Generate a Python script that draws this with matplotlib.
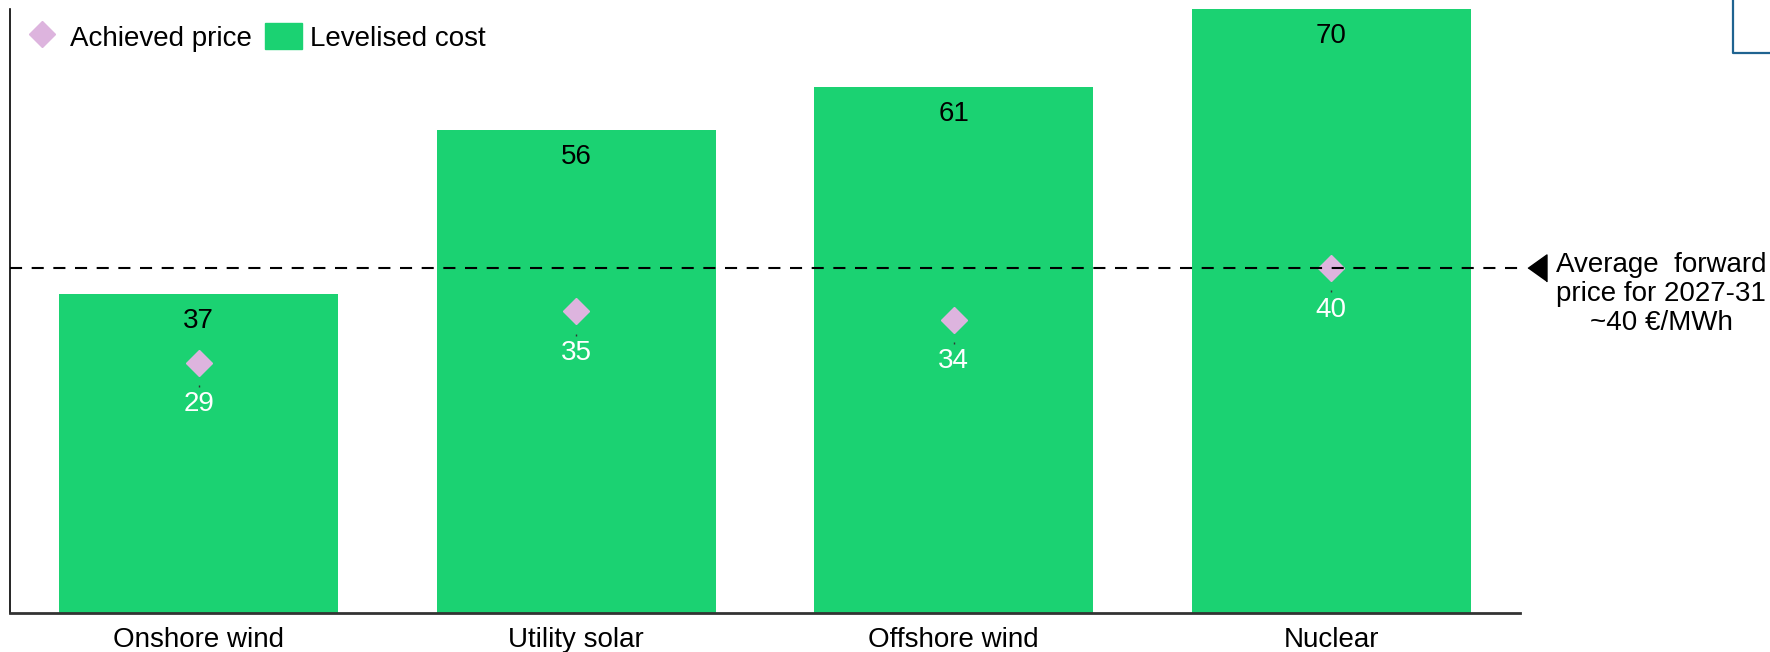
import numpy as np
import matplotlib
matplotlib.use("Agg")
import matplotlib.pyplot as plt
import matplotlib.patches as mpatches
from matplotlib.lines import Line2D
from matplotlib.transforms import offset_copy, blended_transform_factory

plt.rcParams['font.family'] = ['Liberation Sans', 'DejaVu Sans']

# Dados
categorias = ['Onshore wind', 'Utility solar', 'Offshore wind', 'Nuclear']
custo_nivelado = [37, 56, 61, 70]
preco_obtido = [29, 35, 34, 40]
preco_forward = 40

VERDE = '#1BD272'
LILAS = '#DDB4DE'

fig = plt.figure(figsize=(17.7, 6.52), dpi=100)
ax = fig.add_axes([10/1770, 39/652, 1510/1770, 604/652])

x = np.arange(len(categorias))

# Barras do custo nivelado
ax.bar(x, custo_nivelado, width=0.74, color=VERDE, zorder=1)

# Preço obtido (losangos)
ax.plot(x, preco_obtido, ls='none', marker='D', ms=13, color=LILAS,
        mec=LILAS, zorder=2)

# pequeno traço guia abaixo de cada losango
guia = offset_copy(ax.transData, fig=fig, y=-17, units='points')
ax.plot(x, preco_obtido, ls='none', marker='|', ms=2, mew=1,
        color='#333333', transform=guia, zorder=2)

# Rótulos
for xi, c, p in zip(x, custo_nivelado, preco_obtido):
    ax.annotate(f'{c}', xy=(xi, c), xytext=(0, -19.5), textcoords='offset points',
                ha='center', va='center', fontsize=20, color='black', zorder=4)
    ax.annotate(f'{p}', xy=(xi, p), xytext=(0, -30), textcoords='offset points',
                ha='center', va='center', fontsize=20, color='white', zorder=4)

# Linha do preço forward médio
ax.axhline(preco_forward, color='black', lw=1.5, ls=(0, (5.8, 4.6)), zorder=3)
tr = blended_transform_factory(ax.transAxes, ax.transData)
seta = [(-0.7, 0), (0.7, 1), (0.7, -1)]
ax.plot([1.0115], [preco_forward], marker=seta, ms=19.5, color='black',
        ls='none', transform=tr, clip_on=False)
ax.text(1.0935, preco_forward - 3.0,
        'Average  forward\nprice for 2027-31\n~40 €/MWh',
        transform=tr, ha='center', va='center', fontsize=20,
        linespacing=1.14, clip_on=False)

# Legenda
h_preco = Line2D([], [], ls='none', marker='D', ms=13, color=LILAS, mec=LILAS,
                 label='Achieved price')
h_custo = mpatches.Patch(color=VERDE, label='Levelised cost')
ax.legend(handles=[h_preco, h_custo], loc='upper left', ncol=2,
          frameon=False, fontsize=20, bbox_to_anchor=(0.0, 1.0),
          borderaxespad=0.1, borderpad=0.4, handlelength=1.33,
          handleheight=1.08, handletextpad=0.32, columnspacing=0.47)

ax.set_xlim(-0.5, 3.5)
ax.set_ylim(0, 70)
ax.set_xticks(x)
ax.set_xticklabels(categorias, fontsize=20)
ax.tick_params(axis='x', length=0, pad=10)
ax.set_yticks([])
ax.spines[['top', 'right']].set_visible(False)
ax.spines['left'].set_linewidth(1.2)
ax.spines['bottom'].set_linewidth(2)
ax.spines['bottom'].set_color('#333333')

# moldura azul no canto superior direito
fig.add_artist(Line2D([1733/1770, 1733/1770, 1.0], [1.0, 1 - 53/652, 1 - 53/652],
                      transform=fig.transFigure, color='#1F6390', lw=1.6))

fig.savefig('out.png', dpi=100)
